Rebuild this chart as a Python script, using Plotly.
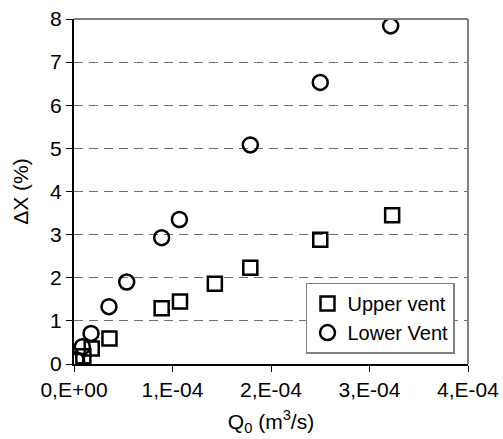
import plotly.graph_objects as go

# Data (Q0 in m^3/s, deltaX in %)
upper_q = [0.03e-4, 0.095e-4, 0.18e-4, 0.36e-4, 0.89e-4, 1.076e-4, 1.43e-4, 1.79e-4, 2.50e-4, 3.23e-4]
upper_dx = [0.07, 0.18, 0.36, 0.59, 1.29, 1.45, 1.86, 2.23, 2.88, 3.45]

lower_q = [0.02e-4, 0.085e-4, 0.173e-4, 0.355e-4, 0.535e-4, 0.89e-4, 1.07e-4, 1.79e-4, 2.50e-4, 3.215e-4]
lower_dx = [0.10, 0.40, 0.71, 1.33, 1.90, 2.93, 3.35, 5.08, 6.53, 7.84]

x_tickvals = [0, 1e-4, 2e-4, 3e-4, 4e-4]
x_ticktext = ["0,E+00", "1,E-04", "2,E-04", "3,E-04", "4,E-04"]
y_tickvals = [0, 1, 2, 3, 4, 5, 6, 7, 8]

FONT = "Liberation Sans, Arial, sans-serif"
FS = 21

fig = go.Figure()
fig.add_trace(go.Scatter(
    x=upper_q, y=upper_dx, mode="markers", name="Upper vent",
    marker=dict(symbol="square-open", size=14, color="black", line=dict(width=2.5, color="black")),
))
fig.add_trace(go.Scatter(
    x=lower_q, y=lower_dx, mode="markers", name="Lower Vent",
    marker=dict(symbol="circle-open", size=15, color="black", line=dict(width=2.5, color="black")),
))

fig.update_layout(
    width=503, height=439,
    margin=dict(l=74, r=35, t=19, b=75, autoexpand=False),
    paper_bgcolor="white", plot_bgcolor="white",
    font=dict(family=FONT, size=FS, color="black"),
    showlegend=True,
    legend=dict(
        x=0.967, y=0.236, xanchor="right", yanchor="top",
        bgcolor="white", bordercolor="#808080", borderwidth=1.5,
        font=dict(family=FONT, size=20, color="black"),
        tracegroupgap=0, itemwidth=30,
    ),
    xaxis=dict(
        range=[0, 4e-4], tickvals=x_tickvals, ticktext=x_ticktext,
        showgrid=False, zeroline=False, automargin=False,
        showline=True, linecolor="black", linewidth=2,
        ticks="outside", ticklen=6, tickcolor="black", tickwidth=1,
        title=dict(text="Q<sub>0</sub> (m<sup>3</sup>/s)", standoff=14,
                   font=dict(family=FONT, size=FS)),
        tickfont=dict(family=FONT, size=FS),
    ),
    yaxis=dict(
        range=[0, 8], tickvals=y_tickvals,
        showgrid=True, gridcolor="#707070", gridwidth=1, griddash="9px,6px",
        zeroline=False, automargin=False,
        showline=True, linecolor="black", linewidth=2,
        ticks="outside", ticklen=6, tickcolor="black", tickwidth=1,
        title=dict(text="ΔX (%)", standoff=16, font=dict(family=FONT, size=FS)),
        tickfont=dict(family=FONT, size=FS),
    ),
    shapes=[
        dict(type="line", xref="paper", yref="paper", x0=0, x1=1, y0=1, y1=1,
             line=dict(color="#808080", width=2), layer="above"),
        dict(type="line", xref="paper", yref="paper", x0=1, x1=1, y0=0, y1=1,
             line=dict(color="#808080", width=2), layer="above"),
    ],
)

fig.write_html("out.html")
